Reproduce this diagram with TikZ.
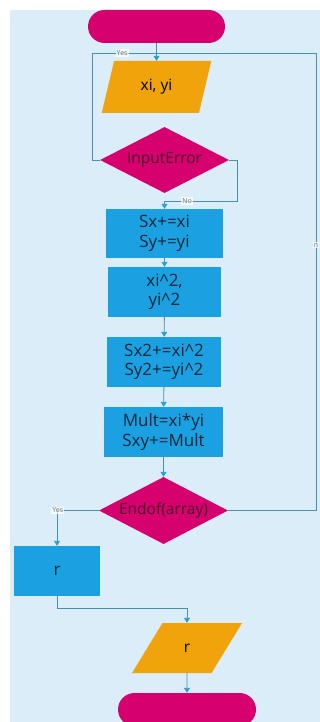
\documentclass[tikz,border=0pt]{standalone}
\usepackage{fontspec}
\setmainfont{Open Sans}
\usetikzlibrary{shapes.geometric,arrows.meta,calc}
\definecolor{panel}{HTML}{DAEDF8}
\definecolor{magenta}{HTML}{D6006F}
\definecolor{amber}{HTML}{F0A30A}
\definecolor{cyanbox}{HTML}{1BA1E2}
\definecolor{wire}{HTML}{4790B2}
\definecolor{tipc}{HTML}{2A9DD4}
\definecolor{dectext}{HTML}{4A0A28}
\definecolor{boxtext}{HTML}{0C2638}
\tikzset{
  basefont/.style={font=\fontsize{15.5}{19}\selectfont},
  boxfont/.style={font=\fontsize{17}{19.5}\selectfont},
  term/.style={rectangle, rounded corners=16.5pt, fill=magenta, draw=none,
    minimum width=137pt, minimum height=33pt},
  io/.style={trapezium, trapezium stretches=true, fill=amber, draw=none,
    basefont, text=black, inner sep=0pt},
  dec/.style={diamond, fill=magenta, draw=none, basefont, text=dectext,
    inner sep=0pt, minimum width=129pt, minimum height=66pt, aspect=1.95},
  proc/.style={rectangle, fill=cyanbox, draw=none, boxfont, text=boxtext,
    align=center, inner sep=2pt},
  flow/.style={draw=wire, line width=0.9pt, -{Triangle[width=6pt,length=5pt,fill=tipc,color=tipc]}},
  plain/.style={draw=wire, line width=0.9pt},
  tag/.style={fill=white, fill opacity=0.75, text opacity=1, text=black!55,
    font=\fontsize{7}{8}\selectfont, inner sep=1pt}
}
\begin{document}
\begin{tikzpicture}[x=1pt,y=-1pt]
  \clip (0,0) rectangle (320,722);
  \fill[white] (0,0) rectangle (320,722);
  \fill[panel] (10,10) rectangle (320,722);

  % shapes
  \node[term] (start) at (156.5,26.5) {};
  \node[io, trapezium left angle=73, trapezium right angle=107,
        minimum width=110pt, minimum height=52pt] (xy) at (156.5,87) {xi, yi};
  \node[dec] (ie) at (164.5,160) {InputError};
  \node[proc, minimum width=117pt, minimum height=49pt] (b1) at (164.5,233.5) {Sx+=xi\\Sy+=yi};
  \node[proc, minimum width=113pt, minimum height=50pt] (b2) at (164.5,292) {xi\textasciicircum 2,\\yi\textasciicircum 2};
  \node[proc, minimum width=114pt, minimum height=50pt] (b3) at (164,362) {Sx2+=xi\textasciicircum 2\\Sy2+=yi\textasciicircum 2};
  \node[proc, minimum width=119pt, minimum height=50pt] (b4) at (163.5,432) {Mult=xi*yi\\Sxy+=Mult};
  \node[dec, minimum width=129pt, minimum height=67pt] (eoa) at (163.5,510.5) {Endof(array)};
  \node[proc, minimum width=86pt, minimum height=50pt] (rbox) at (57,571) {r};
  \node[io, trapezium left angle=65, trapezium right angle=115,
        minimum width=110pt, minimum height=50pt] (rout) at (187,648) {r};
  \node[term, minimum width=138pt] (stop) at (187,709.5) {};

  % loop joints
  \coordinate (merge) at (156.5,53);
  \coordinate (rc) at (316,53);
  \coordinate (nj) at (164.5,201);

  % connectors
  \draw[flow] (start.south) -- (xy.north);
  \draw[plain] (ie.west) -- ++(-7,0) |- node[tag, pos=0.73] {Yes} (merge);
  \draw[plain] (eoa.east) -| node[tag, pos=0.79] {n} (rc) -- (merge);
  \draw[flow] (ie.east) -- ++(8,0) |- node[tag, pos=0.845] {No} (nj) -- (b1.north);
  \draw[flow] (b1) -- (b2);
  \draw[flow] (b2) -- (b3);
  \draw[flow] (b3) -- (b4);
  \draw[flow] (b4) -- (eoa);
  \draw[flow] (eoa.west) -| node[tag, pos=0.49] {Yes} (rbox.north);
  \draw[flow] (rbox.south) -- ++(0,12) -| (rout.north);
  \draw[flow] (rout.south) -- (stop.north);
\end{tikzpicture}
\end{document}
